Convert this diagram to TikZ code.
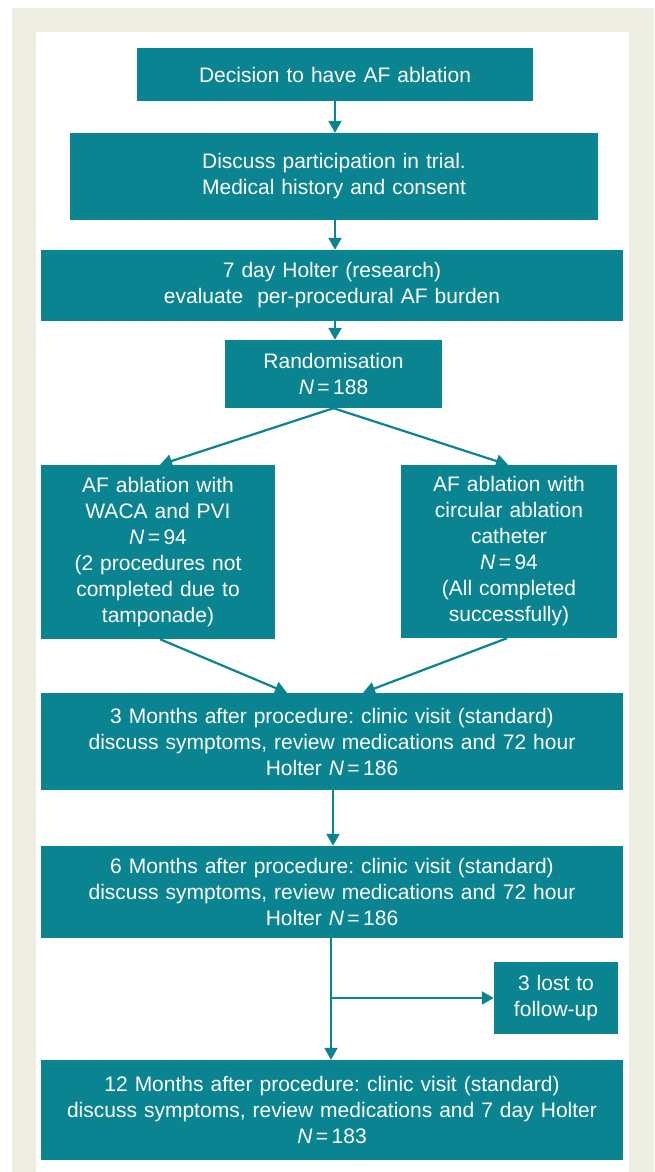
\documentclass[tikz,border=0pt]{standalone}
\usepackage{fontspec}
\setmainfont{Liberation Sans}
\usetikzlibrary{arrows.meta,calc}
\definecolor{teal1}{HTML}{0B8491}
\definecolor{beige1}{HTML}{EEEEE3}
\frenchspacing
\begin{document}
\begin{tikzpicture}[x=1pt,y=-1pt,
  box/.style={fill=teal1,text=white,inner sep=0pt,align=center,
    font=\fontsize{21}{26}\selectfont},
  conn/.style={draw=teal1,line width=2.2pt,-{Triangle[length=12pt,width=13pt]}}]
\useasboundingbox (0,0) rectangle (654,1172);
\fill[beige1] (12,8) rectangle (654,1172);
\fill[white] (36,32) rectangle (629,1172);
\newcommand{\bx}[6]{\node[box,minimum width=#4-#2,minimum height=#5-#3,text width=#4-#2] (#1) at ({(#2+#4)/2},{(#3+#5)/2}) {#6};}
\bx{b1}{137}{48}{533}{101}{Decision to have AF ablation}
\bx{b2}{70}{133}{598}{220}{Discuss participation in trial.\\Medical history and consent}
\bx{b3}{41}{250}{623}{321}{7 day Holter (research)\\evaluate\ \ per-procedural AF burden}
\bx{b4}{225}{340}{442}{408}{Randomisation\\\textit{N}\,=\,188}
\bx{b5}{41}{465}{275}{639}{AF ablation with\\WACA and PVI\\\textit{N}\,=\,94\\(2 procedures not\\completed due to\\tamponade)}
\bx{b6}{401}{465}{617}{638}{AF ablation with\\circular ablation\\catheter\\\textit{N}\,=\,94\\(All completed\\successfully)}
\bx{b7}{41}{693}{623}{790}{3 Months after procedure: clinic visit (standard)\\discuss symptoms, review medications and 72 hour\\Holter \textit{N}\,=\,186}
\bx{b8}{41}{846}{623}{938}{6 Months after procedure: clinic visit (standard)\\discuss symptoms, review medications and 72 hour\\Holter \textit{N}\,=\,186}
\bx{b9}{494}{962}{618}{1034}{3 lost to\\follow-up}
\bx{b10}{41}{1060}{623}{1160}{12 Months after procedure: clinic visit (standard)\\discuss symptoms, review medications and 7 day Holter\\\textit{N}\,=\,183}
\draw[conn] (b1.south) -- (b1.south |- b2.north);
\draw[conn] (b1.south |- b2.south) -- (b1.south |- b3.north);
\draw[conn] (b1.south |- b3.south) -- (b1.south |- b4.north);
\draw[conn] (b4.south) -- ([xshift=2pt]b5.north);
\draw[conn] (b4.south) -- ([xshift=-1pt]b6.north);
\draw[conn] ([xshift=2pt]b5.south) -- ([xshift=-45pt]b7.north);
\draw[conn] ([xshift=-2pt]b6.south) -- ([xshift=31pt]b7.north);
\draw[conn] ([xshift=1pt]b7.south) -- ([xshift=1pt]b8.north);
\coordinate (br) at (331,998);
\draw[conn] ([xshift=-1pt]b8.south) -- ([xshift=-1pt]b10.north);
\draw[conn] (br) -- (br -| b9.west);
\end{tikzpicture}
\end{document}
